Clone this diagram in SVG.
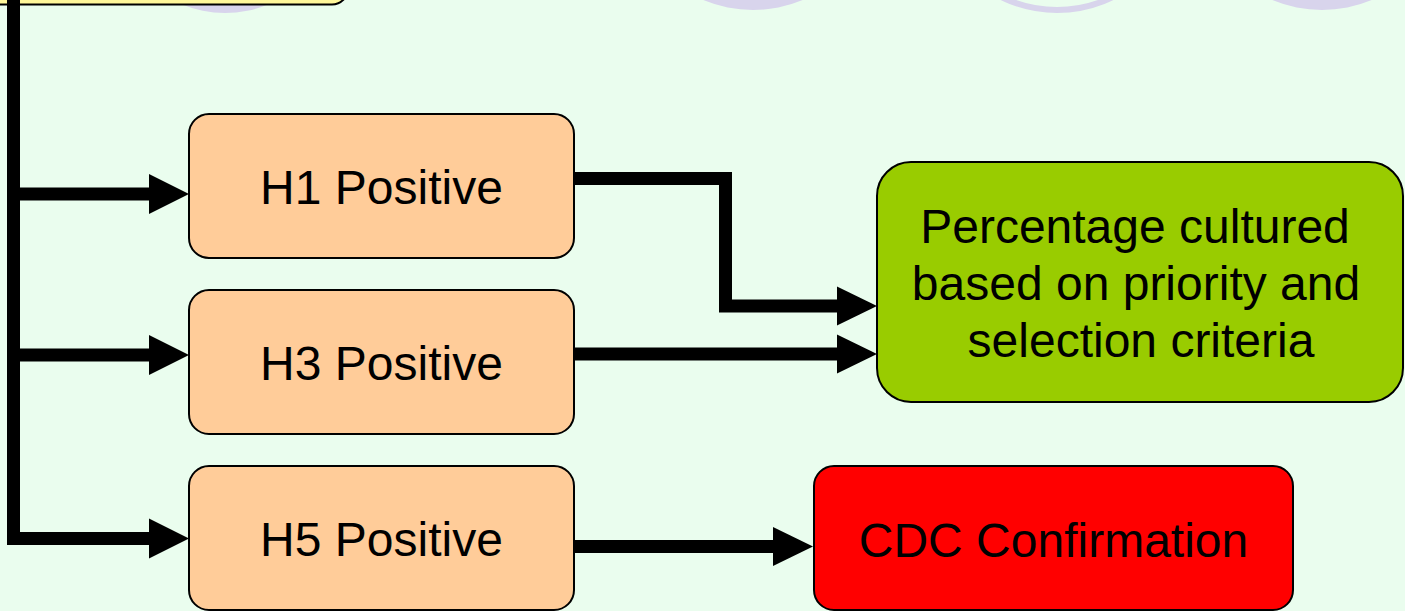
<svg xmlns="http://www.w3.org/2000/svg" width="1405" height="611" viewBox="0 0 1405 611">
  <style>
    .lbl { font-family: "Liberation Sans", Arial, sans-serif; font-size: 48px; fill: #000; text-anchor: middle; }
    .box { stroke: #000; stroke-width: 2; }
    .conn { fill: none; stroke: #000; stroke-width: 13; stroke-linejoin: miter; stroke-linecap: butt; }
    .head { fill: #000; }
    .deco { fill: #D8D4EC; }
  </style>
  <rect x="0" y="0" width="1405" height="611" fill="#EAFDEE"/>

  <g id="decorations">
    <circle class="deco" cx="225" cy="-101" r="114"/>
    <circle class="deco" cx="753" cy="-120" r="130"/>
    <circle cx="1057" cy="-116" r="126" fill="none" stroke="#D8D4EC" stroke-width="6"/>
    <circle class="deco" cx="1322" cy="-120" r="130"/>
  </g>

  <g id="node-top">
    <rect class="box" x="-30" y="-60" width="378" height="64.5" rx="16" fill="#FFF799"/>
  </g>

  <g id="connectors">
    <path class="conn" d="M13.5,0 V538.5 H150"/>
    <path class="conn" d="M13.5,194 H150"/>
    <path class="conn" d="M13.5,355 H150"/>
    <polygon class="head" points="149,174 189,194 149,214"/>
    <polygon class="head" points="149,335 189,355 149,375"/>
    <polygon class="head" points="149,518.5 189,538.5 149,558.5"/>

    <path class="conn" d="M574,178.5 H725.5 V306 H838"/>
    <polygon class="head" points="837,286.5 877,306 837,325.5"/>
    <path class="conn" d="M574,354 H838"/>
    <polygon class="head" points="837,334.5 877,354 837,373.5"/>
    <path class="conn" d="M574,546.5 H774"/>
    <polygon class="head" points="773,527 813,546.5 773,566"/>
  </g>

  <g id="node-h1">
    <rect class="box" x="189" y="114" width="385" height="144" rx="20" fill="#FFCC99"/>
    <text class="lbl" x="381.5" y="204">H1 Positive</text>
  </g>
  <g id="node-h3">
    <rect class="box" x="189" y="290" width="385" height="144" rx="20" fill="#FFCC99"/>
    <text class="lbl" x="381.5" y="380">H3 Positive</text>
  </g>
  <g id="node-h5">
    <rect class="box" x="189" y="466" width="385" height="144" rx="20" fill="#FFCC99"/>
    <text class="lbl" x="381.5" y="556">H5 Positive</text>
  </g>

  <g id="node-culture">
    <rect class="box" x="877" y="162" width="526" height="240" rx="34" fill="#99CC00"/>
    <text class="lbl" x="1135" y="243">Percentage cultured</text>
    <text class="lbl" x="1136" y="300">based on priority and</text>
    <text class="lbl" x="1141" y="357">selection criteria</text>
  </g>

  <g id="node-cdc">
    <rect class="box" x="814" y="466" width="479" height="144" rx="20" fill="#FF0000"/>
    <text class="lbl" x="1053.5" y="557">CDC Confirmation</text>
  </g>
</svg>
